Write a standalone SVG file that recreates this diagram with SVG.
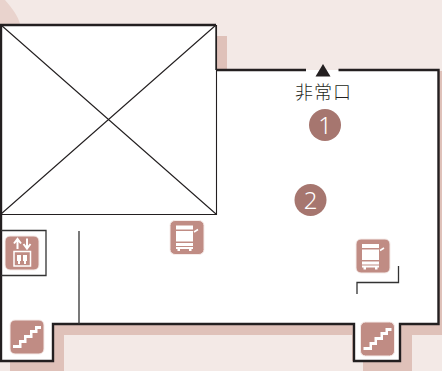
<svg xmlns="http://www.w3.org/2000/svg" width="442" height="371" viewBox="0 0 442 371">
<defs>
<style>
.wall{fill:none;stroke:#231f20;stroke-width:2.4}
.thin{fill:none;stroke:#231f20;stroke-width:1.1}
.mid{fill:none;stroke:#333;stroke-width:1.3}
.ico{fill:#c08c84;stroke:#f6ecea;stroke-width:1}
.w{fill:#fff}
.num{font-family:"Noto Sans","Liberation Sans",sans-serif;font-weight:300;font-size:24px;fill:#fff;text-anchor:middle}
</style>
<g id="stair"><rect class="ico" x="0" y="0" width="34" height="34" rx="5"/><path class="w" d="M3 25H9V20H14V15H20V10H25V6H31V9H27.500V13H22.500V18H16.500V23H11.500V28H3Z"/></g>
<g id="copier"><rect class="ico" x="0" y="0" width="34" height="34" rx="5"/><path class="w" d="M6 5H23V9H6ZM6 10.500H23V21H6ZM6 22.500H23V25.500H6ZM6 26.500H23V28.500H21.500V30.500H19V28.500H10V30.500H7.500V28.500H6Z"/><path d="M24 11.500L28 9" stroke="#fff" stroke-width="1.500"/></g>
</defs>
<rect width="442" height="371" fill="#f3e9e6"/>
<g id="background">
<path d="M0 0H5C12 8 18 16 20 24H0Z" fill="#e9d3cd"/>
<path d="M216 36H227V70H216Z" fill="#dfc1b9"/>
<path d="M439 71H442V335H412V371H363V361H352V335H64V371H10V349H0V324H439Z" fill="#dfc1b9"/>
</g>
<g id="floor">
<path d="M1 25H216V70H438V324H400V361H354V324H53V361H1Z" fill="#fff"/>
</g>
<g id="connectors">
<path class="wall" d="M216 70H306M338.500 70H438.500V324H400V361H354V324H53V361H1V25H216"/>
<path d="M216 25V70" fill="none" stroke="#333" stroke-width="1.500"/>
<path class="thin" d="M1 25L216 214M216 25L1 214M1 214.500H216.500V25"/>
<path class="mid" d="M1 230.500H46V275.500H1M79 231V324M357 294V282.500H398.500V266"/>
</g>
<g id="exit-door">
<path d="M323 64L330.500 76.500H315.500Z" fill="#231f20"/>
<text x="323.500" y="99" font-family="'Noto Sans CJK JP','Noto Sans CJK SC',sans-serif" font-weight="300" font-size="18" fill="#231f20" text-anchor="middle" letter-spacing="1">非常口</text>
</g>
<g id="marker-1"><circle cx="325" cy="125" r="16" fill="#a6766f"/><text class="num" x="325" y="133.500">1</text></g>
<g id="marker-2"><circle cx="310.500" cy="200" r="16" fill="#a6766f"/><text class="num" x="310.500" y="208.500">2</text></g>
<g id="elevator">
<rect class="ico" x="5" y="236" width="34" height="34" rx="5"/>
<path d="M17.500 249V239.500M14 243.500L17.500 239L21 243.500M27 238.500V248M23.500 244L27 248.500L30.500 244" fill="none" stroke="#fff" stroke-width="2"/>
<rect x="14" y="251.500" width="16.500" height="14.500" fill="none" stroke="#fff" stroke-width="1.500"/>
<path class="w" d="M17 255H21V261H20V264H18V261H17ZM23 255H27V261H26V264H24V261H23Z"/>
</g>
<use id="stair-left" href="#stair" x="10" y="320"/>
<use id="stair-right" href="#stair" x="360.500" y="322"/>
<use id="copier-center" href="#copier" x="170" y="220.500"/>
<use id="copier-right" href="#copier" x="356" y="239"/>
</svg>
